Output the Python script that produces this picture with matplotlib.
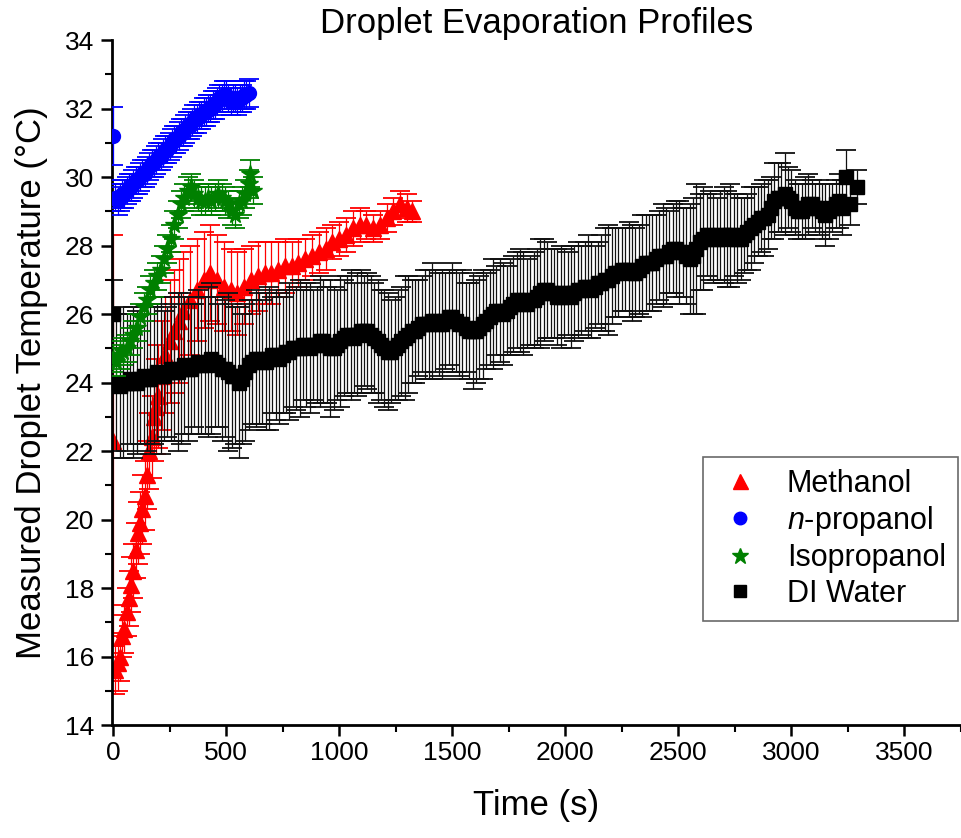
import matplotlib.pyplot as plt
from matplotlib.ticker import MultipleLocator

plt.rcParams['font.family'] = ['Liberation Sans', 'DejaVu Sans']
plt.rcParams['mathtext.fontset'] = 'custom'
plt.rcParams['mathtext.it'] = 'Liberation Sans:italic'
plt.rcParams['mathtext.rm'] = 'Liberation Sans'

# Methanol
meth_t = [0, 10, 20, 30, 40, 50, 60, 70, 80, 90, 100, 110, 120, 130, 140, 150, 160, 170, 180, 190,
          200, 215, 230, 250, 270, 290, 310, 340, 370, 400, 430, 460, 490, 520, 550, 580, 610, 640,
          670, 700, 730, 760, 790, 820, 850, 880, 910, 940, 970, 1000, 1030, 1060, 1090, 1120, 1150,
          1180, 1210, 1240, 1270, 1300, 1320]
meth_T = [22.3, 15.6, 15.8, 16.0, 16.6, 16.8, 17.3, 17.7, 18.1, 18.5, 19.1, 19.6, 19.9, 20.3, 20.7,
          21.3, 22.0, 22.4, 23.0, 23.3, 23.6, 24.2, 24.8, 25.2, 25.5, 25.8, 26.1, 26.4, 26.7, 27.0,
          27.2, 27.0, 26.8, 26.7, 26.6, 26.8, 27.0, 27.1, 27.2, 27.2, 27.3, 27.4, 27.4, 27.5, 27.6,
          27.7, 27.8, 27.9, 28.1, 28.2, 28.3, 28.5, 28.6, 28.6, 28.5, 28.6, 28.8, 29.0, 29.2, 29.1, 29.0]
meth_err = [6.0, 0.7, 0.8, 0.7, 0.6, 0.7, 0.7, 0.8, 0.8, 0.8, 0.8, 0.9, 0.9, 1.0, 1.0, 1.0, 1.1, 1.2,
            1.3, 1.4, 1.5, 1.6, 1.7, 1.8, 1.8, 1.8, 1.7, 1.6, 1.5, 1.4, 1.4, 1.3, 1.3, 1.2, 1.2, 1.1,
            1.0, 1.0, 0.9, 0.9, 0.8, 0.8, 0.7, 0.7, 0.6, 0.6, 0.6, 0.6, 0.5, 0.5, 0.5, 0.5, 0.5, 0.4,
            0.4, 0.4, 0.4, 0.4, 0.4, 0.4, 0.3]

# n-propanol
prop_t = [0, 10, 20, 30, 40, 50, 60, 70, 80, 90, 100, 110, 120, 130, 140, 150, 160, 170, 180, 190,
          200, 210, 220, 230, 240, 250, 260, 270, 280, 290, 300, 310, 320, 330, 340, 350, 360, 370,
          380, 390, 400, 410, 420, 430, 440, 450, 460, 470, 480, 490, 500, 510, 520, 530, 540, 550,
          560, 570, 580, 590, 600]
prop_T = [31.2, 29.4, 29.3, 29.4, 29.5, 29.5, 29.6, 29.7, 29.7, 29.8, 29.9, 29.9, 30.0, 30.1, 30.1,
          30.2, 30.3, 30.4, 30.4, 30.5, 30.6, 30.6, 30.7, 30.8, 30.8, 30.9, 31.0, 31.1, 31.1, 31.2,
          31.3, 31.3, 31.4, 31.5, 31.5, 31.6, 31.7, 31.7, 31.8, 31.8, 31.9, 31.9, 32.0, 32.0, 32.1,
          32.1, 32.2, 32.3, 32.3, 32.4, 32.4, 32.3, 32.2, 32.3, 32.3, 32.2, 32.3, 32.3, 32.4, 32.4, 32.45]
prop_err = [0.85] + [0.4] * 60

# Isopropanol
iso_t = [0, 15, 30, 45, 60, 75, 90, 105, 120, 135, 150, 165, 180, 195, 210, 225, 240, 255, 270, 285,
         300, 315, 330, 345, 360, 375, 390, 405, 420, 435, 450, 465, 480, 495, 510, 525, 540, 555,
         570, 585, 600, 605, 620]
iso_T = [24.7, 24.6, 24.8, 24.9, 25.0, 25.2, 25.4, 25.6, 25.9, 26.2, 26.4, 26.7, 26.9, 27.1, 27.3,
         27.6, 27.9, 28.2, 28.6, 28.9, 29.2, 29.4, 29.6, 29.7, 29.5, 29.4, 29.3, 29.3, 29.4, 29.3,
         29.4, 29.5, 29.4, 29.3, 29.2, 29.0, 28.9, 29.2, 29.3, 29.5, 29.8, 30.1, 29.6]
iso_err = [0.4] * 43

# DI water (two interleaved sets of readings)
water_t = [0, 30, 60, 90, 120, 150, 180, 210, 240, 270, 300, 330, 360, 390, 420, 450, 480, 510, 540,
           570, 600, 630, 660, 690, 720, 750, 780, 810, 840, 870, 900, 930, 960, 990, 1020, 1050,
           1080, 1110, 1140, 1170, 1200, 1230, 1260, 1290, 1320, 1350, 1380, 1410, 1440, 1470, 1500,
           1530, 1560, 1590, 1620, 1650, 1680, 1710, 1740, 1770, 1800, 1830, 1860, 1890, 1920, 1950,
           1980, 2010, 2040, 2070, 2100, 2130, 2160, 2190, 2220, 2250, 2280, 2310, 2340, 2370, 2400,
           2430, 2460, 2490, 2520, 2550, 2580, 2610, 2640, 2670, 2700, 2730, 2760, 2790, 2820, 2850,
           2880, 2910, 2940, 2970, 3000, 3030, 3060, 3090, 3120, 3150, 3180, 3210, 3240, 3260, 3290]
water_T = [26.0, 23.9, 24.0, 24.0, 24.1, 24.1, 24.2, 24.2, 24.3, 24.3, 24.4, 24.4, 24.5, 24.5, 24.6,
           24.6, 24.4, 24.3, 24.2, 24.1, 24.5, 24.7, 24.6, 24.7, 24.8, 24.8, 24.9, 25.0, 25.1, 25.0,
           25.1, 25.2, 25.0, 25.1, 25.3, 25.4, 25.4, 25.5, 25.4, 25.2, 25.0, 24.9, 25.1, 25.3, 25.5,
           25.6, 25.7, 25.8, 25.7, 25.8, 25.9, 25.7, 25.6, 25.5, 25.6, 25.8, 26.0, 26.1, 26.1, 26.3,
           26.4, 26.3, 26.4, 26.6, 26.7, 26.6, 26.5, 26.6, 26.6, 26.7, 26.8, 26.8, 26.9, 27.0, 27.2,
           27.3, 27.3, 27.2, 27.4, 27.5, 27.6, 27.7, 27.8, 27.9, 27.8, 27.6, 27.9, 28.2, 28.3, 28.2,
           28.3, 28.3, 28.2, 28.3, 28.5, 28.7, 28.8, 29.1, 29.4, 29.5, 29.3, 29.0, 29.1, 29.2, 29.1,
           28.9, 29.1, 29.3, 30.0, 29.2, 29.7]
water_err = [1.0,
             2.1, 2.0, 2.2, 1.9, 2.1, 2.0, 2.3, 1.9, 2.0, 2.2, 2.1, 1.8, 2.0, 2.2, 1.9, 2.1, 2.3, 2.0, 1.9,
             1.9, 2.0, 1.8, 2.1, 1.9, 1.7, 2.0, 1.8, 1.6, 1.9, 1.7, 1.8, 2.0, 1.6, 1.7, 1.9, 1.8, 1.6, 1.7, 1.8,
             1.7, 1.5, 1.6, 1.8, 1.5, 1.4, 1.6, 1.7, 1.5, 1.4, 1.6, 1.5, 1.3, 1.7, 1.5, 1.4, 1.6, 1.5, 1.3, 1.4,
             1.5, 1.3, 1.4, 1.6, 1.4, 1.3, 1.5, 1.2, 1.4, 1.3, 1.5, 1.2, 1.4, 1.6, 1.3, 1.2, 1.4, 1.3, 1.5, 1.4,
             1.3, 1.5, 1.2, 1.4, 1.3, 1.6, 1.9, 1.5, 1.3, 1.2, 1.4, 1.5, 1.3, 1.1, 1.2, 1.0, 1.1, 0.9, 1.0, 1.2,
             0.9, 0.8, 0.9, 0.7, 0.8, 0.9, 0.7, 0.8,
             0.8, 0.6, 0.5]

water_t2 = [15, 45, 75, 105, 135, 165, 195, 225, 255, 285, 315, 345, 375, 405, 435, 465, 495, 525, 555,
            585, 615, 645, 675, 705, 735, 765, 795, 825, 855, 885, 915, 945, 975, 1005, 1035, 1065,
            1095, 1125, 1155, 1185, 1215, 1245, 1275, 1305, 1335, 1365, 1395, 1425, 1455, 1485, 1515,
            1545, 1575, 1605, 1635, 1665, 1695, 1725, 1755, 1785, 1815, 1845, 1875, 1905, 1935, 1965,
            1995, 2025, 2055, 2085, 2115, 2145, 2175, 2205, 2235, 2265, 2295, 2325, 2355, 2385, 2415,
            2445, 2475, 2505, 2535, 2565, 2595, 2625, 2655, 2685, 2715, 2745, 2775, 2805, 2835, 2865,
            2895, 2925, 2955, 2985, 3015, 3045, 3075, 3105, 3135, 3165, 3195, 3225]
water_T2 = [24.0, 24.0, 24.1, 24.0, 24.2, 24.1, 24.3, 24.2, 24.4, 24.3,
            24.5, 24.4, 24.6, 24.5, 24.7, 24.5, 24.4, 24.2, 24.0, 24.3,
            24.6, 24.7, 24.6, 24.8, 24.7, 24.9, 25.0, 25.0, 25.1, 25.1,
            25.2, 25.1, 25.0, 25.2, 25.4, 25.3, 25.5, 25.5, 25.3, 25.1,
            24.9, 25.0, 25.2, 25.4, 25.5, 25.7, 25.7, 25.8, 25.7, 25.9,
            25.8, 25.7, 25.5, 25.5, 25.7, 25.9, 26.1, 26.0, 26.2, 26.4,
            26.3, 26.4, 26.5, 26.7, 26.6, 26.5, 26.6, 26.5, 26.7, 26.8,
            26.7, 26.9, 27.0, 27.1, 27.2, 27.3, 27.2, 27.3, 27.5, 27.5,
            27.7, 27.7, 27.9, 27.8, 27.7, 27.7, 28.1, 28.3, 28.2, 28.3,
            28.2, 28.3, 28.2, 28.4, 28.6, 28.8, 28.9, 29.3, 29.4, 29.4,
            29.1, 29.0, 29.2, 29.1, 29.0, 29.0, 29.2, 29.1]
water_err2 = [2.0, 2.2, 1.9, 2.1, 2.0, 2.2, 2.0, 1.9, 2.1, 2.3, 2.0, 1.9, 2.1, 2.0, 2.2, 1.8, 2.0, 2.1, 2.2,
              2.0, 1.8, 1.9, 2.0, 1.7, 1.9, 1.8, 1.7, 2.0, 1.8, 1.6, 1.9, 1.7, 1.8, 1.9, 1.7, 1.6, 1.8, 1.7, 1.6,
              1.6, 1.7, 1.5, 1.6, 1.7, 1.5, 1.4, 1.6, 1.5, 1.6, 1.4, 1.5, 1.6, 1.4, 1.5, 1.6, 1.4, 1.3, 1.5, 1.4,
              1.4, 1.5, 1.3, 1.4, 1.5, 1.3, 1.4, 1.3, 1.5, 1.4, 1.3, 1.4, 1.2, 1.5, 1.4, 1.3, 1.2, 1.4, 1.3, 1.4,
              1.4, 1.3, 1.4, 1.3, 1.5, 1.4, 1.7, 1.4, 1.2, 1.3, 1.3, 1.4, 1.2, 1.2, 1.1, 1.1, 1.0, 1.0, 1.1, 1.0,
              0.9, 0.8, 0.8, 0.9, 0.7, 0.8, 0.8, 0.7, 0.8]

fig = plt.figure(figsize=(9.61, 8.38), dpi=100)
ax = fig.add_axes([0.1165, 0.1348, 0.8835, 0.8174])

eb = dict(ls='none', elinewidth=0.9, capsize=7, capthick=1.3)
ax.errorbar(meth_t, meth_T, yerr=meth_err, fmt='^', color='#ff0000', ms=12, zorder=1,
            label='Methanol', **eb)
ax.errorbar(water_t + water_t2, water_T + water_T2, yerr=water_err + water_err2, fmt='s',
            color='black', ecolor='#111111', ms=10, zorder=2, label='DI Water', **eb)
ax.errorbar(iso_t, iso_T, yerr=iso_err, fmt='*', color='#008000', ms=13, zorder=3,
            label='Isopropanol', **eb)
ax.errorbar(prop_t, prop_T, yerr=prop_err, fmt='o', color='#0000ff', ms=10, zorder=4,
            label='$\\it{n}$-propanol', **eb)

ax.set_xlim(-5, 3750)
ax.set_ylim(14, 34)
ax.xaxis.set_major_locator(MultipleLocator(500))
ax.xaxis.set_minor_locator(MultipleLocator(250))
ax.yaxis.set_major_locator(MultipleLocator(2))
ax.yaxis.set_minor_locator(MultipleLocator(1))
ax.tick_params(which='major', direction='out', length=8, width=1.8, labelsize=19)
ax.tick_params(axis='y', which='major', pad=5)
ax.tick_params(which='minor', direction='out', length=5, width=1.5)
ax.spines['top'].set_visible(False)
ax.spines['right'].set_visible(False)
ax.spines['left'].set_linewidth(2)
ax.spines['bottom'].set_linewidth(2)

ax.set_xlabel('Time (s)', fontsize=25, labelpad=17)
ax.set_ylabel('Measured Droplet Temperature (\u00b0C)', fontsize=25, labelpad=12)
ax.set_title('Droplet Evaporation Profiles', fontsize=25, pad=-1)

handles, labels = ax.get_legend_handles_labels()
order = [0, 3, 2, 1]
leg = ax.legend([handles[i][0] for i in order], [labels[i] for i in order],
                loc='upper left', bbox_to_anchor=(0.7315, 0.455), bbox_transform=fig.transFigure,
                fontsize=22, frameon=True, fancybox=False, edgecolor='#444444',
                handletextpad=0.75, borderpad=0.4, labelspacing=0.17, handlelength=1.6,
                borderaxespad=0, markerscale=0.9)
leg.get_frame().set_linewidth(1.2)

fig.savefig('out.png', dpi=100)
